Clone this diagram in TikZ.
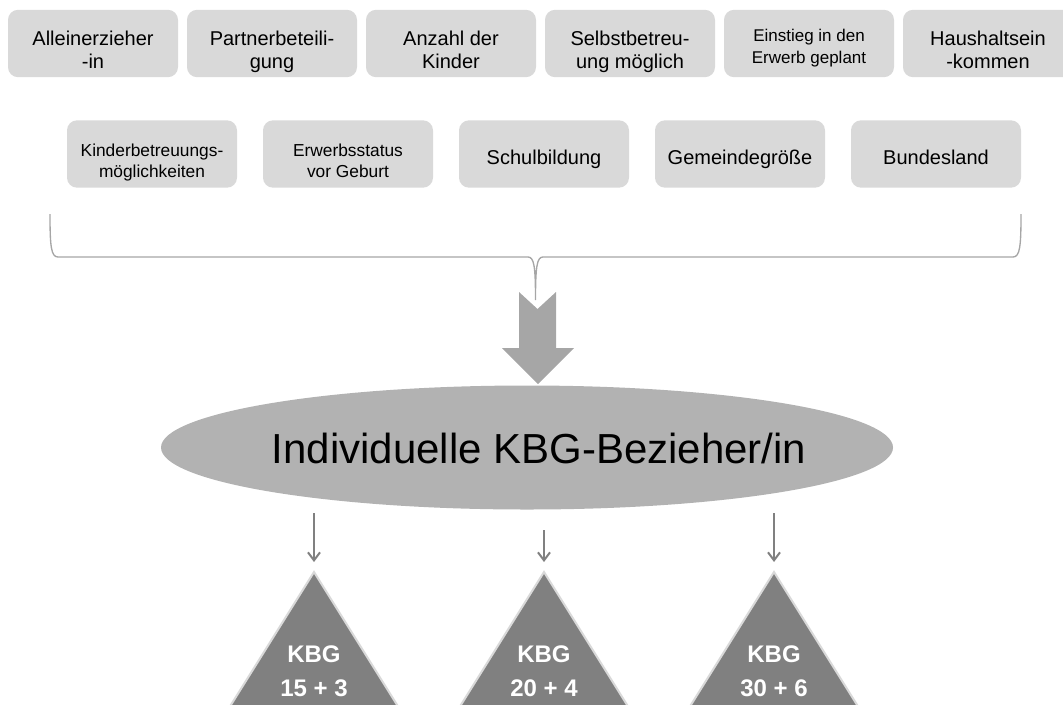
\documentclass[tikz,border=0pt]{standalone}
\usepackage{fontspec}
\setmainfont{Liberation Sans}
\usetikzlibrary{shapes.geometric,arrows.meta}
\definecolor{boxgrau}{RGB}{217,217,217}
\definecolor{ellgrau}{RGB}{178,178,178}
\definecolor{pfeilgrau}{RGB}{166,166,166}
\definecolor{dunkelgrau}{RGB}{128,128,128}
% Stuetzen fuer gleiche Grundlinien in den Kaesten
\newcommand{\stuetz}[2]{\rule{0pt}{#1}#2\rule[-5pt]{0pt}{0pt}}
\begin{document}
\begin{tikzpicture}[x=0.75pt,y={(0pt,-0.75pt)},
  every node/.style={font=\fontsize{15}{17.6}\selectfont,align=center},
  faktor/.style={fill=boxgrau,rounded corners=7.5pt,minimum width=127.5pt,minimum height=50.5pt,inner sep=0pt},
  klein/.style={font=\fontsize{13}{15.4}\selectfont},
  kbg/.style={font=\bfseries\fontsize{18}{25.5}\selectfont,text=white},
  klammer/.style={draw=pfeilgrau,line width=1pt},
  pfeil/.style={draw=dunkelgrau,line width=1.5pt,shorten >=7.5pt,-{Straight Barb[length=6pt,width=9pt]}}]
\useasboundingbox (0,0) rectangle (1063,704);
\clip (0,0) rectangle (1063,704);
% obere Reihe
\node[faktor] (allein) at (93,43.5) {\stuetz{24.85pt}{Alleinerzieher\\-in}};
\node[faktor] (partner) at (272,43.5) {\stuetz{24.85pt}{Partnerbeteili-\\gung}};
\node[faktor] (kinder) at (451,43.5) {\stuetz{24.85pt}{Anzahl der\\Kinder}};
\node[faktor] (selbst) at (630,43.5) {\stuetz{24.85pt}{Selbstbetreu-\\ung möglich}};
\node[faktor,font=\fontsize{12.75}{16}\selectfont] (einstieg) at (809,43.5) {\stuetz{18.3pt}{Einstieg in den\\Erwerb geplant}};
\node[faktor] (haushalt) at (988,43.5) {\stuetz{24.85pt}{Haushaltsein\\-kommen}};
% untere Reihe
\node[faktor,klein] (betreuung) at (152,154) {\stuetz{24.15pt}{Kinderbetreuungs-\\möglichkeiten}};
\node[faktor,klein] (erwerb) at (348,154) {\stuetz{24.15pt}{Erwerbsstatus\\vor Geburt}};
\node[faktor] (schule) at (544,154) {\stuetz{20.4pt}{Schulbildung}};
\node[faktor] (gemeinde) at (740,154) {\stuetz{20.4pt}{Gemeindegröße}};
\node[faktor] (land) at (936,154) {\stuetz{20.4pt}{Bundesland}};
% Klammer und Blockpfeil
\draw[klammer] (50,214) .. controls (50,246) and (51,257) .. (58,257) -- (528,257)
  .. controls (534,257) and (535.5,266) .. (535.5,300)
  .. controls (535.5,266) and (537,257) .. (543,257) -- (1013,257)
  .. controls (1020,257) and (1021,246) .. (1021,214);
\fill[pfeilgrau] (519,292) -- (537.5,309) -- (556,292) -- (556,348) -- (574,348)
  -- (538,384) -- (502,348) -- (519,348) -- cycle;
% Ellipse
\node[ellipse,fill=ellgrau,minimum width=549pt,minimum height=93pt,inner sep=0pt] (bezieher) at (527,447.5) {};
\node[font=\fontsize{31.5}{36}\selectfont,anchor=base] (titel) at (539,463) {Individuelle KBG-Bezieher/in};
% Varianten
\coordinate (t1) at (314,572);
\coordinate (t2) at (544,572);
\coordinate (t3) at (774,572);
\filldraw[fill=dunkelgrau,draw=boxgrau,line width=1.5pt] (t1) -- ++(-125,200) -- ++(250,0) -- cycle;
\filldraw[fill=dunkelgrau,draw=boxgrau,line width=1.5pt] (t2) -- ++(-125,200) -- ++(250,0) -- cycle;
\filldraw[fill=dunkelgrau,draw=boxgrau,line width=1.5pt] (t3) -- ++(-125,200) -- ++(250,0) -- cycle;
\node[kbg] (kbg1) at (314,671) {KBG\\15 + 3};
\node[kbg] (kbg2) at (544,671) {KBG\\20 + 4};
\node[kbg] (kbg3) at (774,671) {KBG\\30 + 6};
\coordinate (a1) at (314,513);
\coordinate (a2) at (544,530);
\coordinate (a3) at (774,513);
\draw[pfeil] (a1) -- (t1);
\draw[pfeil] (a2) -- (t2);
\draw[pfeil] (a3) -- (t3);
\end{tikzpicture}
\end{document}
